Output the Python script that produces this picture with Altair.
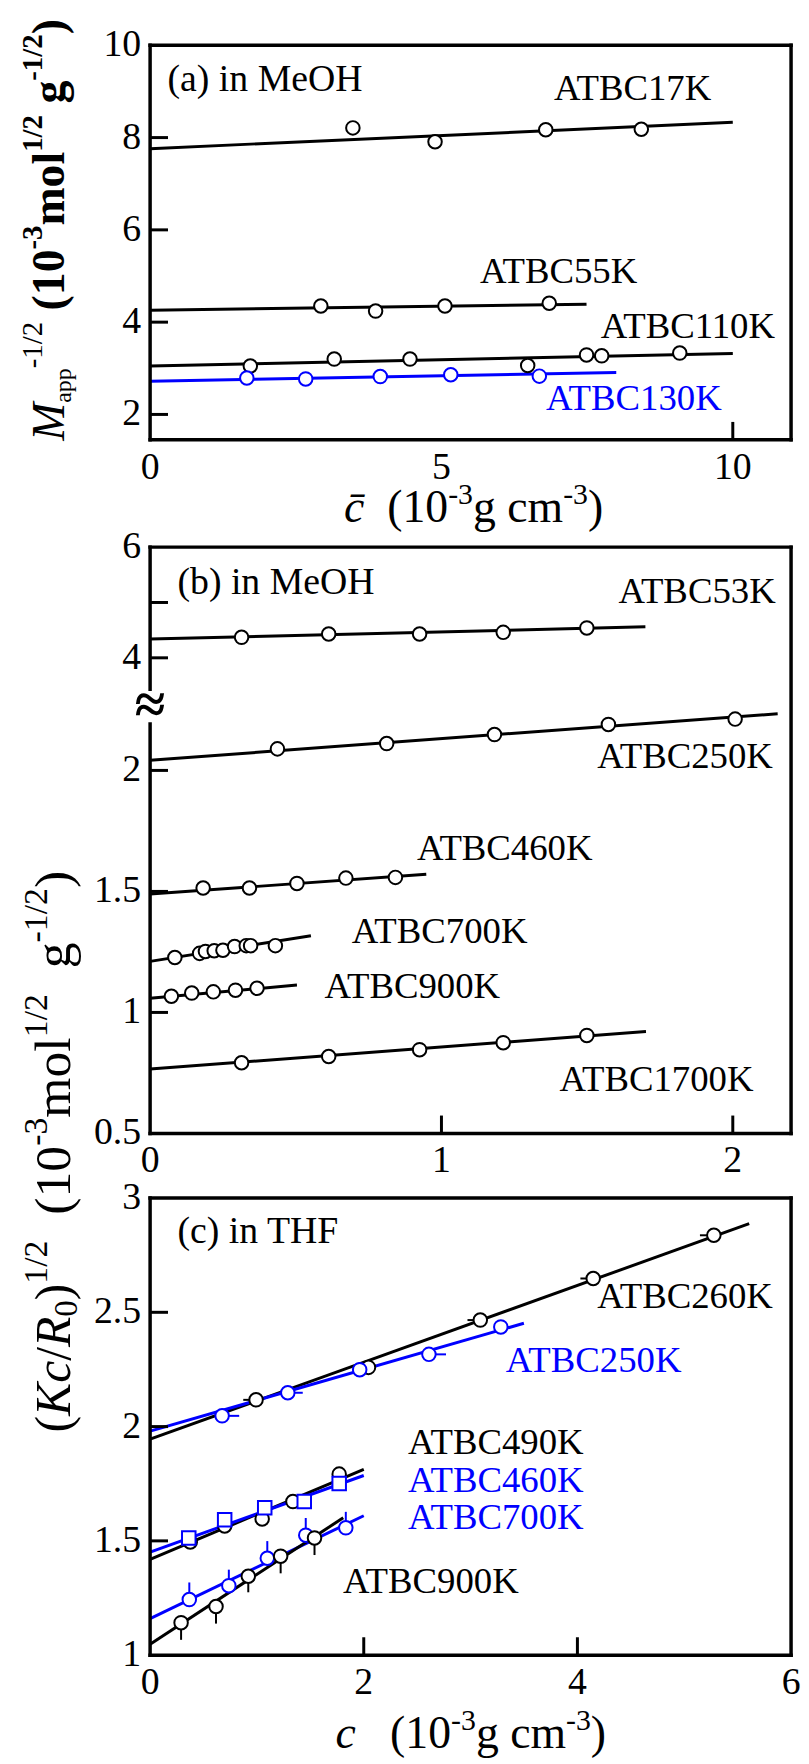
import altair as alt
import pandas as pd

FONT = "Liberation Serif"
BLUE = "#0000ff"
BLACK = "#000000"

# ---------------- panel (a): in MeOH ----------------
a17_x = [3.48, 4.89, 6.79, 8.43]
a17_y = [8.21, 7.91, 8.17, 8.18]
a55_x = [2.93, 3.87, 5.06, 6.85]
a55_y = [4.35, 4.24, 4.35, 4.41]
a110_x = [1.72, 3.16, 4.46, 6.48, 7.49, 7.75, 9.09]
a110_y = [3.05, 3.20, 3.20, 3.06, 3.29, 3.27, 3.33]
a130_x = [1.66, 2.67, 3.95, 5.16, 6.68]
a130_y = [2.79, 2.77, 2.82, 2.86, 2.83]
a17_fit_x, a17_fit_y = [0, 10], [7.76, 8.33]
a55_fit_x, a55_fit_y = [0, 7.49], [4.26, 4.39]
a110_fit_x, a110_fit_y = [0, 10], [3.05, 3.32]
a130_fit_x, a130_fit_y = [0, 8.0], [2.72, 2.91]

# ---------------- panel (b): in MeOH ----------------
b53_x = [0.314, 0.613, 0.925, 1.212, 1.499]
b53_y = [4.37, 4.43, 4.43, 4.46, 4.54]
b250_x = [0.437, 0.812, 1.182, 1.573, 2.008]
b250_y = [2.089, 2.111, 2.148, 2.190, 2.212]
b460_x = [0.182, 0.341, 0.504, 0.672, 0.842]
b460_y = [1.514, 1.514, 1.533, 1.555, 1.558]
b700_x = [0.085, 0.17, 0.19, 0.22, 0.25, 0.29, 0.33, 0.345, 0.43]
b700_y = [1.227, 1.244, 1.252, 1.255, 1.257, 1.272, 1.276, 1.276, 1.276]
b900_x = [0.073, 0.143, 0.217, 0.293, 0.367]
b900_y = [1.067, 1.080, 1.085, 1.092, 1.100]
b1700_x = [0.314, 0.613, 0.925, 1.212, 1.499]
b1700_y = [0.792, 0.818, 0.846, 0.875, 0.905]
b53_fit_x, b53_fit_y = [0, 1.70], [4.34, 4.56]
b250_fit_x, b250_fit_y = [0, 2.154], [2.042, 2.234]
b460_fit_x, b460_fit_y = [0, 0.948], [1.489, 1.571]
b700_fit_x, b700_fit_y = [0, 0.552], [1.211, 1.317]
b900_fit_x, b900_fit_y = [0, 0.504], [1.059, 1.113]
b1700_fit_x, b1700_fit_y = [0, 1.702], [0.766, 0.921]

# ---------------- panel (c): in THF ----------------
c260_x = [0.992, 2.044, 3.091, 4.148, 5.277]
c260_y = [2.117, 2.259, 2.466, 2.648, 2.837]
c260_xerr = [0.12, 0.08, 0.12, 0.12, 0.13]
c250_x = [0.674, 1.289, 1.962, 2.61, 3.283]
c250_y = [2.047, 2.148, 2.249, 2.316, 2.436]
c250_xerr = [0.16, 0.14, 0.08, 0.16, 0.08]
c490_x = [0.376, 0.698, 1.049, 1.337, 1.770]
c490_y = [1.495, 1.565, 1.596, 1.672, 1.792]
c460_x = [0.362, 0.698, 1.073, 1.443, 1.770]
c460_y = [1.513, 1.592, 1.645, 1.672, 1.751]
c700_x = [0.367, 0.737, 1.097, 1.457, 1.832]
c700_y = [1.243, 1.304, 1.424, 1.525, 1.557]
c700_yerr = [0.075, 0.07, 0.075, 0.075, 0.07]
c900_x = [0.290, 0.617, 0.919, 1.222, 1.539]
c900_y = [1.142, 1.213, 1.345, 1.433, 1.513]
c900_yerr = [0.075, 0.075, 0.07, 0.075, 0.075]
c260_fit_x, c260_fit_y = [0, 5.608], [1.945, 2.888]
c250_fit_x, c250_fit_y = [0, 3.499], [1.98, 2.452]
c490_fit_x, c490_fit_y = [0, 2.0], [1.419, 1.813]
c460_fit_x, c460_fit_y = [0, 2.0], [1.451, 1.786]
c700_fit_x, c700_fit_y = [0, 2.0], [1.16, 1.61]
c900_fit_x, c900_fit_y = [0, 1.808], [1.048, 1.601]

# tick values / labels
a_xticks, a_yticks = [10], [2, 4, 6, 8]
a_xlab_v, a_xlab_t = [0, 5, 10], ["0", "5", "10"]
a_ylab_v, a_ylab_t = [2, 4, 6, 8, 10], ["2", "4", "6", "8", "10"]
b_xticks, b_yticks = [1, 2], [1, 1.5, 2, 4, 5]
b_xlab_v, b_xlab_t = [0, 1, 2], ["0", "1", "2"]
b_ylab_v, b_ylab_t = [0.5, 1, 1.5, 2, 4, 6], ["0.5", "1", "1.5", "2", "4", "6"]
c_xticks, c_yticks = [2, 4], [1.5, 2, 2.5]
c_xlab_v, c_xlab_t = [0, 2, 4, 6], ["0", "2", "4", "6"]
c_ylab_v, c_ylab_t = [1, 1.5, 2, 2.5, 3], ["1", "1.5", "2", "2.5", "3"]

# ---------------- layout ----------------
W = 645
HA, HB, HC = 397, 590, 460
VA, VB, VC = 505, 655, 460
BRK = 156.5
LAB = 37      # curve label size
TAG = 38      # panel tag size
TICK = 38     # tick label size
ONE = pd.DataFrame({"k": [0]})

xs_a = alt.Scale(domain=[0, 11], range=[0, W], nice=False, zero=False)
ys_a = alt.Scale(domain=[1.45, 10], range=[HA, 0], nice=False, zero=False)
xs_b = alt.Scale(domain=[0, 2.2], range=[0, W], nice=False, zero=False)
ys_b = alt.Scale(domain=[0.5, 2.28, 3.19, 6], range=[HB, BRK, BRK, 0], nice=False, zero=False)
xs_c = alt.Scale(domain=[0, 6], range=[0, W], nice=False, zero=False)
ys_c = alt.Scale(domain=[1, 3], range=[HC, 0], nice=False, zero=False)


def pts_df(entries):
    rows = []
    for name, xv, yv, col, shp in entries:
        for x, y in zip(xv, yv):
            rows.append(dict(series=name, x=x, y=y, color=col, shape=shp))
    return pd.DataFrame(rows)


def fit_df(entries):
    rows = []
    for name, xv, yv, col in entries:
        for x, y in zip(xv, yv):
            rows.append(dict(series=name, x=x, y=y, color=col))
    return pd.DataFrame(rows)


WID = {' ': 250, '(': 333, ')': 333, '-': 333, '/': 278, '.': 250,
       'a': 444, 'p': 500, 'm': 778, 'o': 500, 'l': 278, 'g': 500, 'c': 444,
       'K': 722, 'R': 667, 'M': 889, '\u0304': 0}
WID_I = {'M': 833, 'K': 667, 'c': 444, 'R': 611}
WID_B = {'m': 833}


def tw(s, size, style):
    tot = 0
    for ch in s:
        if ch.isdigit():
            w = 500
        elif style == 'italic':
            w = WID_I.get(ch, WID.get(ch, 500))
        elif style == 'bold':
            w = WID_B.get(ch, WID.get(ch, 500))
        else:
            w = WID.get(ch, 500)
        tot += w
    return tot * size / 1000.0


def txt(s, x, y, size=LAB, color=BLACK, style='normal', weight='normal', angle=None,
        align='left', baseline='alphabetic'):
    kw = dict(text=s, font=FONT, fontSize=size, color=color, fontStyle=style,
              fontWeight=weight, align=align, baseline=baseline)
    if angle is not None:
        kw['angle'] = angle
    return alt.Chart(ONE).mark_text(**kw).encode(x=alt.value(x), y=alt.value(y))


def rich(segs, x0, y0, vertical):
    out = []
    pos = 0.0
    for text, size, style, shift in segs:
        lead = len(text) - len(text.lstrip(' '))
        pos += tw(' ' * lead, size, style)
        body = text.strip(' ')
        st = 'italic' if style == 'italic' else 'normal'
        wt = 'bold' if style == 'bold' else 'normal'
        if vertical:
            out.append(txt(body, x0 + shift, y0 - pos, size, style=st, weight=wt, angle=270))
        else:
            out.append(txt(body, x0 + pos, y0 + shift, size, style=st, weight=wt))
        pos += tw(body, size, style)
    return out


def frame(H, left_segments=None):
    L = []
    sw = 3.5
    L.append(alt.Chart(ONE).mark_rule(strokeWidth=sw, color=BLACK, strokeCap='square').encode(
        x=alt.value(0), x2=alt.value(W), y=alt.value(0)))
    L.append(alt.Chart(ONE).mark_rule(strokeWidth=sw, color=BLACK, strokeCap='square').encode(
        x=alt.value(0), x2=alt.value(W), y=alt.value(H)))
    L.append(alt.Chart(ONE).mark_rule(strokeWidth=sw, color=BLACK, strokeCap='square').encode(
        x=alt.value(W), y=alt.value(0), y2=alt.value(H)))
    for (t, b) in (left_segments or [(0, H)]):
        L.append(alt.Chart(ONE).mark_rule(strokeWidth=sw, color=BLACK, strokeCap='square').encode(
            x=alt.value(0), y=alt.value(t), y2=alt.value(b)))
    return L


def panel(xs, ys, H, VH, pts, fits, xt, yt, xlv, xlt, ylv, ylt, errs=None, extra=(), left=None):
    layers = []
    layers.append(alt.Chart(fits).mark_line(strokeWidth=3).encode(
        x=alt.X('x:Q', scale=xs, axis=None), y=alt.Y('y:Q', scale=ys, axis=None),
        detail='series:N', stroke=alt.Stroke('color:N', scale=None)))
    if errs is not None:
        layers.append(alt.Chart(errs).mark_rule(strokeWidth=2).encode(
            x=alt.X('x:Q', scale=xs, axis=None), x2='x2:Q',
            y=alt.Y('y:Q', scale=ys, axis=None), y2='y2:Q',
            stroke=alt.Stroke('color:N', scale=None)))
    layers.append(alt.Chart(pts).mark_point(filled=True, fill='white', strokeWidth=2,
                                            size=185, opacity=1).encode(
        x=alt.X('x:Q', scale=xs, axis=None), y=alt.Y('y:Q', scale=ys, axis=None),
        stroke=alt.Stroke('color:N', scale=None), shape=alt.Shape('shape:N', scale=None)))
    layers += frame(H, left)
    layers.append(alt.Chart(pd.DataFrame({'v': yt})).mark_rule(strokeWidth=3, color=BLACK).encode(
        y=alt.Y('v:Q', scale=ys, axis=None), x=alt.value(0), x2=alt.value(18)))
    layers.append(alt.Chart(pd.DataFrame({'v': xt})).mark_rule(strokeWidth=3, color=BLACK).encode(
        x=alt.X('v:Q', scale=xs, axis=None), y=alt.value(H - 18), y2=alt.value(H)))
    layers.append(alt.Chart(pd.DataFrame({'v': ylv, 'lab': ylt})).mark_text(
        font=FONT, fontSize=TICK, align='right', baseline='middle', color=BLACK).encode(
        y=alt.Y('v:Q', scale=ys, axis=None), x=alt.value(-9), text='lab:N'))
    layers.append(alt.Chart(pd.DataFrame({'v': xlv, 'lab': xlt})).mark_text(
        font=FONT, fontSize=TICK, align='center', baseline='alphabetic', color=BLACK).encode(
        x=alt.X('v:Q', scale=xs, axis=None), y=alt.value(H + 39), text='lab:N'))
    layers += list(extra)
    return alt.layer(*layers).properties(width=W, height=VH)


# ---- panel a ----
pa_pts = pts_df([("17K", a17_x, a17_y, BLACK, "circle"), ("55K", a55_x, a55_y, BLACK, "circle"),
                 ("110K", a110_x, a110_y, BLACK, "circle"), ("130K", a130_x, a130_y, BLUE, "circle")])
pa_fit = fit_df([("17K", a17_fit_x, a17_fit_y, BLACK), ("55K", a55_fit_x, a55_fit_y, BLACK),
                 ("110K", a110_fit_x, a110_fit_y, BLACK), ("130K", a130_fit_x, a130_fit_y, BLUE)])
guard = alt.Chart(ONE).mark_rule(strokeOpacity=0, strokeWidth=1).encode(
    x=alt.value(-142.5), y=alt.value(-32), y2=alt.value(-31))
a_extra = [guard,
           txt("(a) in MeOH", 17.5, 46, TAG),
           txt("ATBC17K", 406.5, 55), txt("ATBC55K", 332, 239.6),
           txt("ATBC110K", 453.5, 294.5), txt("ATBC130K", 398.5, 367.5, color=BLUE)]
a_extra += rich([("M", 46, 'italic', 0), ("app", 24, 'normal', 7), ("-1/2", 29, 'normal', -22),
                 (" (10", 46, 'bold', 0), ("-3", 29, 'bold', -22), ("mol", 46, 'bold', 0),
                 ("1/2", 29, 'bold', -22), (" g", 46, 'bold', 0), ("-1/2", 29, 'bold', -22),
                 (")", 46, 'bold', 0)], -86.5, 398, True)
a_extra += rich([("c\u0304", 46, 'italic', 0), ("  (10", 46, 'normal', 0), ("-3", 30, 'normal', -18),
                 ("g cm", 46, 'normal', 0), ("-3", 30, 'normal', -18), (")", 46, 'normal', 0)],
                195.2, 479.7, False)
pa = panel(xs_a, ys_a, HA, VA, pa_pts, pa_fit, a_xticks, a_yticks, a_xlab_v, a_xlab_t,
           a_ylab_v, a_ylab_t, extra=a_extra)

# ---- panel b ----
pb_pts = pts_df([("53K", b53_x, b53_y, BLACK, "circle"), ("250K", b250_x, b250_y, BLACK, "circle"),
                 ("460K", b460_x, b460_y, BLACK, "circle"), ("700K", b700_x, b700_y, BLACK, "circle"),
                 ("900K", b900_x, b900_y, BLACK, "circle"), ("1700K", b1700_x, b1700_y, BLACK, "circle")])
pb_fit = fit_df([("53K", b53_fit_x, b53_fit_y, BLACK), ("250K", b250_fit_x, b250_fit_y, BLACK),
                 ("460K", b460_fit_x, b460_fit_y, BLACK), ("700K", b700_fit_x, b700_fit_y, BLACK),
                 ("900K", b900_fit_x, b900_fit_y, BLACK), ("1700K", b1700_fit_x, b1700_fit_y, BLACK)])
b_extra = [txt("(b) in MeOH", 27.5, 46.7, TAG),
           txt("ATBC53K", 471.3, 56.6), txt("ATBC250K", 450, 222.3),
           txt("ATBC460K", 268.5, 315), txt("ATBC700K", 203, 398.4),
           txt("ATBC900K", 175.5, 454), txt("ATBC1700K", 412, 547.5),
           txt("\u2248", 0, 160, 56, weight='bold', align='center', baseline='middle')]
pb = panel(xs_b, ys_b, HB, VB, pb_pts, pb_fit, b_xticks, b_yticks, b_xlab_v, b_xlab_t,
           b_ylab_v, b_ylab_t, extra=b_extra, left=[(0, 143), (178, HB)])

# ---- panel c ----
pc_pts = pts_df([("260K", c260_x, c260_y, BLACK, "circle"), ("250K", c250_x, c250_y, BLUE, "circle"),
                 ("490K", c490_x, c490_y, BLACK, "circle"), ("460K", c460_x, c460_y, BLUE, "square"),
                 ("700K", c700_x, c700_y, BLUE, "circle"), ("900K", c900_x, c900_y, BLACK, "circle")])
pc_fit = fit_df([("260K", c260_fit_x, c260_fit_y, BLACK), ("250K", c250_fit_x, c250_fit_y, BLUE),
                 ("490K", c490_fit_x, c490_fit_y, BLACK), ("460K", c460_fit_x, c460_fit_y, BLUE),
                 ("700K", c700_fit_x, c700_fit_y, BLUE), ("900K", c900_fit_x, c900_fit_y, BLACK)])
err_rows = []
for x, y, e in zip(c260_x, c260_y, c260_xerr):
    err_rows.append(dict(x=x - e, x2=x, y=y, y2=y, color=BLACK))
for x, y, e in zip(c250_x, c250_y, c250_xerr):
    err_rows.append(dict(x=x, x2=x + e, y=y, y2=y, color=BLUE))
for x, y, e in zip(c700_x, c700_y, c700_yerr):
    err_rows.append(dict(x=x, x2=x, y=y, y2=y + e, color=BLUE))
for x, y, e in zip(c900_x, c900_y, c900_yerr):
    err_rows.append(dict(x=x, x2=x, y=y - e, y2=y, color=BLACK))
pc_err = pd.DataFrame(err_rows)
c_extra = [txt("(c) in THF", 27.5, 45.7, TAG),
           txt("ATBC260K", 450, 110.7), txt("ATBC250K", 358, 174.8, color=BLUE),
           txt("ATBC490K", 259.5, 258), txt("ATBC460K", 259.5, 295.4, color=BLUE),
           txt("ATBC700K", 259.5, 332.8, color=BLUE), txt("ATBC900K", 194.2, 397)]
c_extra += rich([("(", 50, 'normal', 0), ("Kc", 50, 'italic', 0), ("/", 50, 'normal', 0),
                 ("R", 50, 'italic', 0), ("0", 33, 'normal', 7), (")", 50, 'normal', 0),
                 ("1/2", 34, 'normal', -23), ("  (10", 52, 'normal', 0), ("-3", 34, 'normal', -23),
                 ("mol", 52, 'normal', 0), ("1/2", 34, 'normal', -23), ("  g", 52, 'normal', 0),
                 ("-1/2", 34, 'normal', -23), (")", 52, 'normal', 0)], -80.5, 236, True)
c_extra += rich([("c", 46, 'italic', 0), ("   (10", 46, 'normal', 0), ("-3", 30, 'normal', -18),
                 ("g cm", 46, 'normal', 0), ("-3", 30, 'normal', -18), (")", 46, 'normal', 0)],
                186.6, 553.3, False)
pc = panel(xs_c, ys_c, HC, VC, pc_pts, pc_fit, c_xticks, c_yticks, c_xlab_v, c_xlab_t,
           c_ylab_v, c_ylab_t, errs=pc_err, extra=c_extra)

chart = alt.vconcat(pa, pb, pc, spacing=0, bounds='flush', padding=0).configure_view(strokeWidth=0)
chart.save("out.html", embed_options={"renderer": "svg", "actions": False})
